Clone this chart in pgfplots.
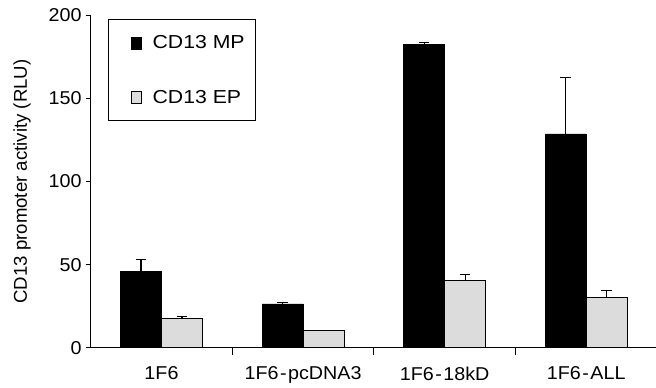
\documentclass[border=0pt]{standalone}
\usepackage{fontspec}
\setmainfont{Liberation Sans}
\newfontfamily\legfont{Liberation Sans}[FakeStretch=1.13]
\newfontfamily\tickfont{Liberation Sans}[FakeStretch=1.06]
\usepackage{pgfplots}
\pgfplotsset{compat=1.18}
\usetikzlibrary{calc}
\definecolor{eplight}{RGB}{220,220,220}
\begin{document}
\begin{tikzpicture}
\begin{axis}[
  scale only axis, width=566.3pt, height=332.4pt,
  xmin=-0.5, xmax=3.5, ymin=0, ymax=200,
  axis x line=bottom, axis y line=left,
  axis line style={-, line width=1.1pt},
  ybar=0pt, bar width=0.29,
  xtick={0,1,2,3},
  xticklabels={1F6, 1F6\kern1.5pt-\kern1.5pt pcDNA3, 1F6\kern1.5pt-\kern1.5pt 18kD, 1F6\kern1.5pt-\kern1.5pt ALL},
  minor xtick={0.5,1.5,2.5},
  tick align=outside,
  major tick length=5pt, minor tick length=7pt,
  major x tick style={draw=none},
  minor x tick style={draw=black, line width=1.1pt},
  ytick={0,50,100,150,200},
  major y tick style={draw=black, line width=1.1pt},
  tick label style={font=\tickfont\fontsize{18.6}{22}\selectfont},
  /pgf/number format/assume math mode=true,
  yticklabel style={inner sep=0pt, anchor=east, xshift=-4pt},
  xticklabel style={inner sep=0pt, anchor=north, yshift=-14pt},
  ylabel={CD13 promoter activity (RLU)},
  ylabel style={at={(axis description cs:-0.1213,0.5)}, anchor=center, font=\fontsize{18.6}{22}\selectfont},
  legend style={at={(axis description cs:0.0309,0.988)}, anchor=north west, draw=black, line width=1pt,
    font=\legfont\fontsize{18.8}{22}\selectfont, inner xsep=11pt, inner ysep=16pt, row sep=39.5pt, column sep=11pt,
    nodes={inner sep=0pt}},
  legend cell align=left,
  legend image code/.code={\path (0pt,0pt); \draw[#1, line width=0.6pt] (11pt,-6pt) rectangle (21.3pt,6pt);},
  error bars/y dir=plus, error bars/y explicit,
  error bars/error bar style={black, line width=1.1pt},
  error bars/error mark options={rotate=90, mark size=5.3pt, line width=1.1pt, black},
]
\addplot[fill=black, draw=black, line width=0.6pt] coordinates {
  (0,46.1) +- (0,6.9)
  (1,26.3) +- (0,0.8)
  (2,182.7) +- (0,1.0)
  (3,128.6) +- (0,34.1)
};
\addplot[fill=eplight, draw=black, line width=0.6pt] coordinates {
  (0,17.7) +- (0,1.0)
  (1,10.2) +- (0,0.4)
  (2,40.5) +- (0,3.4)
  (3,30.1) +- (0,4.4)
};
\legend{CD13 MP, CD13 EP}
\coordinate (sw) at (rel axis cs:0,0);
\coordinate (ne) at (rel axis cs:1,1);
\end{axis}
\pgfresetboundingbox
\path ($(sw)+(-90.7pt,-40.3pt)$) rectangle ($(ne)+(-1pt,15.3pt)$);
\end{tikzpicture}
\end{document}
